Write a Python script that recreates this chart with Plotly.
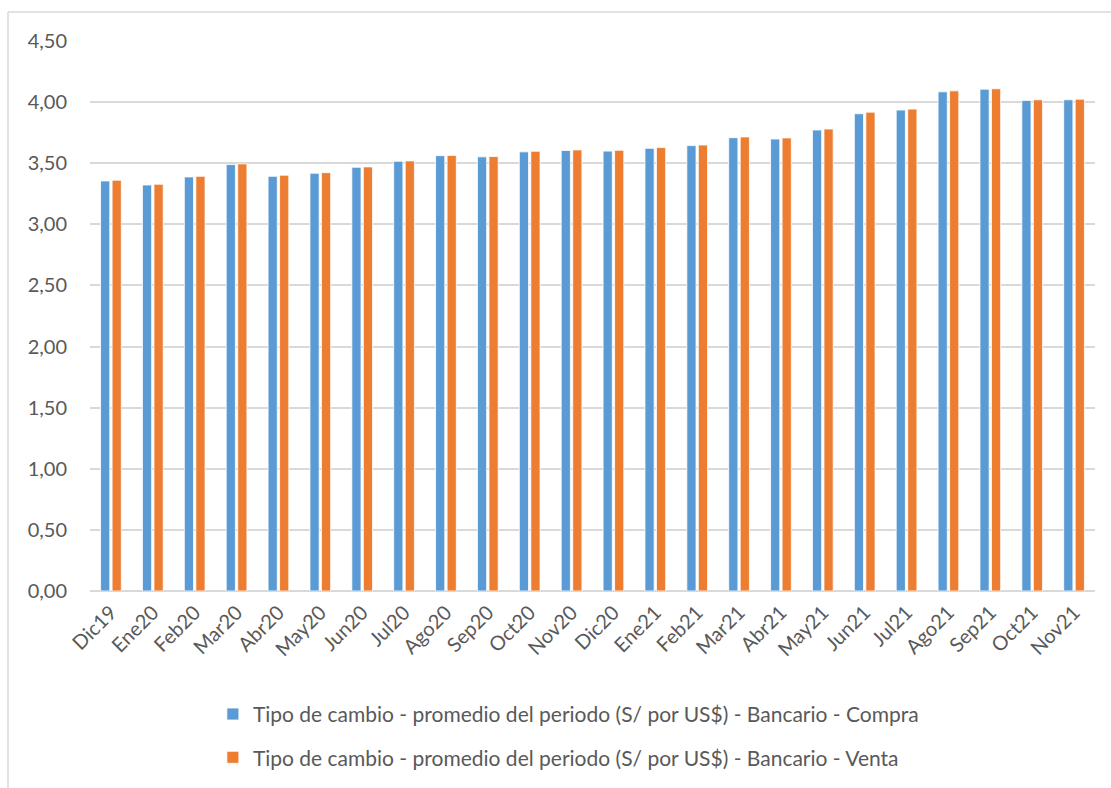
import plotly.graph_objects as go

meses = ["Dic19", "Ene20", "Feb20", "Mar20", "Abr20", "May20", "Jun20", "Jul20",
         "Ago20", "Sep20", "Oct20", "Nov20", "Dic20", "Ene21", "Feb21", "Mar21",
         "Abr21", "May21", "Jun21", "Jul21", "Ago21", "Sep21", "Oct21", "Nov21"]

compra = [3.355, 3.322, 3.388, 3.489, 3.393, 3.418, 3.467, 3.516,
          3.562, 3.552, 3.593, 3.604, 3.599, 3.622, 3.644, 3.709,
          3.698, 3.772, 3.905, 3.935, 4.084, 4.106, 4.014, 4.019]

venta = [3.361, 3.328, 3.393, 3.495, 3.402, 3.423, 3.470, 3.519,
         3.564, 3.555, 3.598, 3.609, 3.606, 3.628, 3.649, 3.715,
         3.707, 3.780, 3.918, 3.943, 4.092, 4.109, 4.019, 4.024]

nombre_compra = "Tipo de cambio - promedio del periodo (S/ por US$) - Bancario - Compra"
nombre_venta = "Tipo de cambio - promedio del periodo (S/ por US$) - Bancario - Venta"

gris = "#595959"

fig = go.Figure()
fig.add_trace(go.Bar(x=meses, y=compra, name=nombre_compra, legendgroup="c",
                     marker=dict(color="#5B9BD5", line=dict(color="white", width=0.8))))
fig.add_trace(go.Bar(x=meses, y=venta, name=nombre_venta, legendgroup="v",
                     marker=dict(color="#ED7D31", line=dict(color="white", width=0.8))))

fig.update_layout(
    width=1111, height=788,
    margin=dict(l=90, r=16, t=41, b=197, autoexpand=False),
    plot_bgcolor="white", paper_bgcolor="white",
    font=dict(family="Lato", color=gris, size=20),
    separators=",.",
    barmode="group", bargap=0.45, bargroupgap=0.2,
    legend=dict(orientation="v", x=0.476, xanchor="center", y=-0.187, yanchor="top",
                font=dict(size=21, color=gris), tracegroupgap=13),
    showlegend=True,
)

fig.update_yaxes(range=[0, 4.5], dtick=0.5, tickformat=".2f", automargin=False,
                 showgrid=True, gridcolor="#D9D9D9", gridwidth=1.5,
                 zeroline=True, zerolinecolor="#D9D9D9", zerolinewidth=2,
                 tickfont=dict(size=20, color=gris), ticks="", ticklabelstandoff=22)
fig.update_xaxes(tickangle=-45, tickfont=dict(size=20, color=gris), automargin=False,
                 showline=False, ticks="", ticklabelstandoff=5)

# marco del gráfico
fig.add_shape(type="line", xref="paper", yref="paper",
              x0=(8 - 90) / 1005, x1=1.03, y0=1 + 29 / 550, y1=1 + 29 / 550,
              line=dict(color="#D9D9D9", width=1.5))
fig.add_shape(type="line", xref="paper", yref="paper",
              x0=(8 - 90) / 1005, x1=(8 - 90) / 1005, y0=1 + 29 / 550, y1=-0.4,
              line=dict(color="#D9D9D9", width=1.5))

fig.write_html("out.html", config={"displayModeBar": False},
               post_script="document.body.style.margin='0';")
